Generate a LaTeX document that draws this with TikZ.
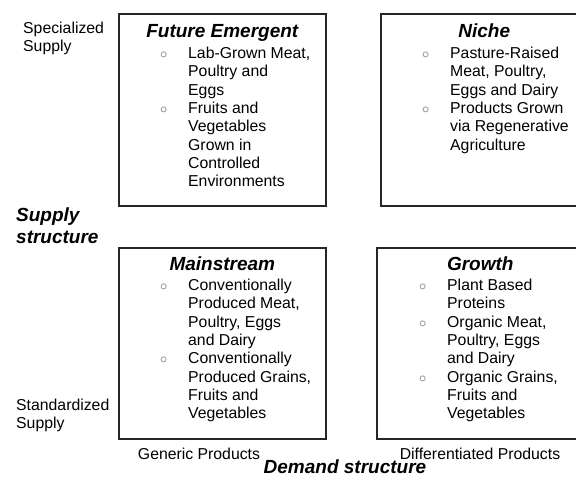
\documentclass[tikz,border=0pt]{standalone}
\usepackage{fontspec}
\setmainfont{Liberation Sans}
\usetikzlibrary{positioning}

\newcommand{\itemmark}{\llap{\textcolor{black!65}{$\circ$}\hspace{21pt}}}

\begin{document}
\begin{tikzpicture}[
	x=1pt, y=-1pt,
	quadrant/.style={ % one cell of the matrix
		draw=black!85, line width=1.6pt, minimum width=207pt,
		inner sep=0pt, anchor=north west
	},
	heading/.style={font=\fontsize{19}{21.5}\selectfont\bfseries\itshape},
	entries/.style={align=left, inner sep=0pt, font=\fontsize{15.8}{18.3}\selectfont},
	axislabel/.style={align=left, inner sep=0pt, font=\fontsize{15.8}{18.3}\selectfont}
]
	\useasboundingbox (0,0) rectangle (576,477);
	\clip (0,0) rectangle (576,477);
	%% the four cells
	\node[quadrant, minimum height=192pt] (emer) at (118,13) {};
	\node[quadrant, minimum height=192pt] (niche) at (380,13) {};
	\node[quadrant, minimum height=191pt] (main) at (118,247) {};
	\node[quadrant, minimum height=191pt] (grow) at (376,247) {};
	% cell titles
	\node[heading, below=24pt of emer.north, anchor=base] (emerT) {Future Emergent};
	\node[heading, below=24pt of niche.north, anchor=base] (nicheT) {Niche};
	\node[heading, below=23.5pt of main.north, anchor=base] (mainT) {Mainstream};
	\node[heading, below=23.5pt of grow.north, anchor=base] (growT) {Growth};
	% cell contents
	\node[entries, below right=34pt and 70pt of emer.north west] (emerL) {%
		\itemmark Lab-Grown Meat,\\Poultry and\\Eggs\\
		\itemmark Fruits and\\Vegetables\\Grown in\\Controlled\\Environments};
	\node[entries, below right=34pt and 70pt of niche.north west] (nicheL) {%
		\itemmark Pasture-Raised\\Meat, Poultry,\\Eggs and Dairy\\
		\itemmark Products Grown\\via Regenerative\\Agriculture};
	\node[entries, below right=32pt and 70pt of main.north west] (mainL) {%
		\itemmark Conventionally\\Produced Meat,\\Poultry, Eggs\\and Dairy\\
		\itemmark Conventionally\\Produced Grains,\\Fruits and\\Vegetables};
	\node[entries, below right=32pt and 71pt of grow.north west] (growL) {%
		\itemmark Plant Based\\Proteins\\
		\itemmark Organic Meat,\\Poultry, Eggs\\and Dairy\\
		\itemmark Organic Grains,\\Fruits and\\Vegetables};
	%% axes
	\node[axislabel, anchor=north west] (spec) at (23,22) {Specialized\\Supply};
	\node[heading, align=left, inner sep=0pt, anchor=north west] (supply) at (16,208) {Supply\\structure};
	\node[axislabel, anchor=north west] (std) at (16,399) {Standardized\\Supply};
	\node[axislabel, anchor=base] (gen) at (199,459) {Generic Products};
	\node[axislabel, anchor=base] (diff) at (480,459) {Differentiated Products};
	\node[heading, inner sep=0pt, anchor=base] (demand) at (345,473.5) {Demand structure};
\end{tikzpicture}
\end{document}
